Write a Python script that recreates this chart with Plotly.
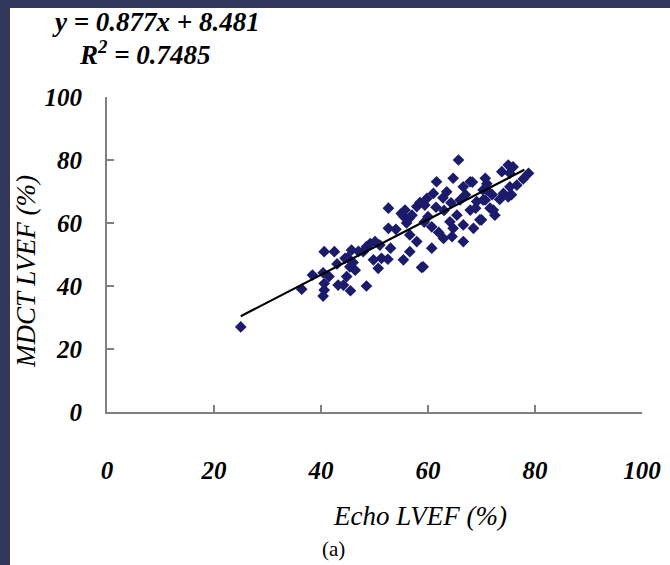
import plotly.graph_objects as go

echo_lvef = [25, 36.4, 38.4, 40.4, 40.6, 40.6, 40.4, 40.6, 42.5, 43.2, 44.5, 45.7, 45.4, 44.8, 46.4, 44.2,
             45.5, 48.5, 49.2, 50.1, 51, 49.8, 51.3, 50.7, 47.9, 45, 46, 52.6, 52.6, 55.7, 55.5, 56,
             56.5, 57.9, 59.4, 56.6, 57.9, 56.6, 55.4, 58.8, 52.5, 53, 65.7, 61.6, 64.7, 67.9, 70.7,
             75, 75.9, 73.8, 75.3, 75.6, 74.1, 73.4, 71, 70.7, 71.6, 69.1, 67.9, 66.6, 66, 63.5, 62.8,
             61, 59.8, 58.5, 64.3, 65.4, 64.1, 64.7, 62.9, 64.5, 66.6, 68.5, 69.7, 66.6, 60.7, 59.3,
             60.7, 59.1, 75.3, 78.8, 77.8, 76.6, 75, 71, 70.3, 68.3, 70.3, 72.2, 68.9, 70, 72.5, 54,
             55, 57, 61.5, 63, 47, 48.5, 43, 41.5, 60, 62, 67, 72]
mdct_lvef = [27, 39, 43.5, 44.2, 40.8, 38.7, 36.8, 50.9, 50.9, 40.3, 48.8, 51.4, 46.1, 43, 45, 40.3,
             38.5, 40, 53.5, 54.1, 53, 48.3, 48.8, 45.6, 50.9, 49, 47.5, 64.7, 58.3, 64.1, 62, 60,
             61.5, 65.2, 65.7, 56.2, 54.1, 50.9, 48.3, 45.9, 48.5, 52, 80, 73.1, 74.2, 73.1, 74.2,
             78.4, 77.8, 76.3, 71.5, 69, 69.4, 67.5, 70.5, 67.3, 64.7, 66.8, 64.1, 71.5, 67.3, 69.9, 68,
             69.4, 67.8, 66.5, 66.4, 62.5, 60.4, 58.3, 55.1, 55.7, 59.4, 58.3, 61, 54.1, 58.8, 60.3,
             52, 46.1, 75.8, 75.8, 74, 72, 68.3, 72.5, 70.5, 73, 67.3, 64.1, 64.7, 61, 62.5, 58,
             63, 62.5, 65, 64, 51, 52.5, 47, 43, 62, 57, 69, 69]

slope = 0.877
intercept = 8.481
fit_x = [25, 78]
fit_y = [slope * v + intercept for v in fit_x]

tick_vals = [0, 20, 40, 60, 80, 100]
tick_text = ["0", "20", "40", "60", "80", "100"]

SERIF = "Liberation Serif"
FRAME = "#30375a"
OX, OY = 10, 8          # page offset of the white figure (dark frame left/top)
W, H = 670 - OX, 565 - OY
# plot area in page pixels: x 107..642, y 97..412
L, R, T, B = 107 - OX, 670 - 642, 97 - OY, 565 - 412
pw, ph = W - L - R, H - T - B

def px(xp):
    return (xp - OX - L) / pw

def py(yp):
    return (H - B - (yp - OY)) / ph

fig = go.Figure()
fig.add_trace(go.Scatter(x=echo_lvef, y=mdct_lvef, mode="markers",
                         marker=dict(symbol="diamond", size=9, color="#1c1b6b"),
                         showlegend=False))
fig.add_trace(go.Scatter(x=fit_x, y=fit_y, mode="lines",
                         line=dict(color="black", width=2.2), showlegend=False))

axis_common = dict(range=[0, 100], tickvals=tick_vals, ticktext=tick_text,
                   showgrid=False, zeroline=False, showline=True,
                   linecolor="#808080", linewidth=2, ticks="inside",
                   ticklen=7, tickwidth=2, tickcolor="#808080",
                   tickfont=dict(family=SERIF, size=25, color="black",
                                 weight="bold", style="italic"))

fig.update_layout(
    width=W, height=H,
    margin=dict(l=L, r=R, t=T, b=B, autoexpand=False),
    paper_bgcolor="white", plot_bgcolor="white",
    xaxis=dict(**axis_common, ticklabelstandoff=35),
    yaxis=dict(**axis_common, ticklabelstandoff=18),
    annotations=[
        dict(text="<b><i>y = 0.877x + 8.481</i></b>", xref="paper", yref="paper",
             x=px(50), y=py(22), xanchor="left", yanchor="middle", showarrow=False,
             font=dict(family=SERIF, size=27, color="black")),
        dict(text="<b><i>R<sup>2</sup> = 0.7485</i></b>", xref="paper", yref="paper",
             x=px(77), y=py(53), xanchor="left", yanchor="middle", showarrow=False,
             font=dict(family=SERIF, size=27, color="black")),
        dict(text="<i>Echo LVEF (%)</i>", xref="paper", yref="paper",
             x=px(420), y=py(516), xanchor="center", yanchor="middle", showarrow=False,
             font=dict(family=SERIF, size=27, color="black")),
        dict(text="<i>MDCT LVEF (%)</i>", xref="paper", yref="paper", textangle=-90,
             x=px(26), y=py(272), xanchor="center", yanchor="middle", showarrow=False,
             font=dict(family=SERIF, size=27, color="black")),
        dict(text="(a)", xref="paper", yref="paper",
             x=px(333), y=py(549), xanchor="center", yanchor="middle", showarrow=False,
             font=dict(family=SERIF, size=21, color="black")),
    ],
)

post = ("document.body.style.margin='%dpx 0 0 %dpx';"
        "document.body.style.background='%s';"
        "document.body.style.overflow='hidden';"
        "document.documentElement.style.background='%s';") % (OY, OX, FRAME, FRAME)
fig.write_html("out.html", post_script=post)
